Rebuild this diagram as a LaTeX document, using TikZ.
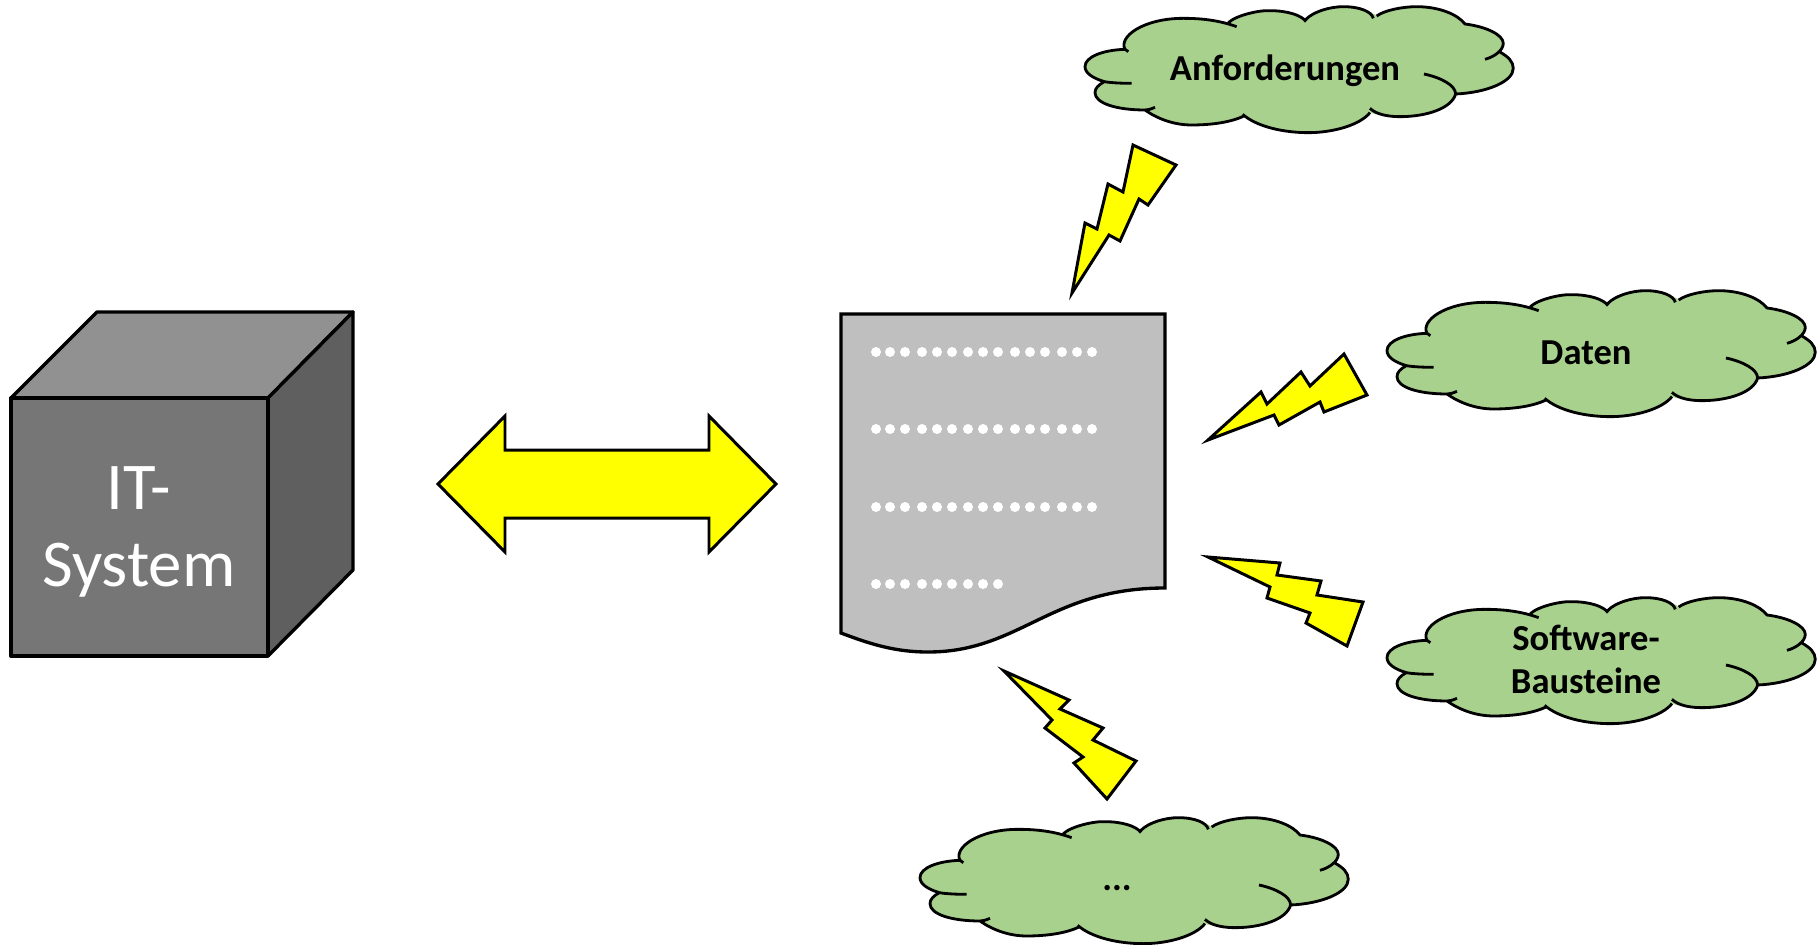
\documentclass[tikz,border=0pt]{standalone}
\usepackage{fontspec}
\setmainfont{Carlito}
\usepackage{xcolor}
\definecolor{wolkegreen}{HTML}{A9D18E}
\definecolor{blitzyellow}{HTML}{FFFF00}
\definecolor{cubefront}{HTML}{767676}
\definecolor{cubetop}{HTML}{919191}
\definecolor{cubeside}{HTML}{5F5F5F}
\definecolor{docgray}{HTML}{BFBFBF}

\tikzset{
  wolke/.pic={
    \path[fill=wolkegreen, scale=0.3333] (195,148)
      .. controls (175,110) and (250,55) .. (370,55)
      .. controls (430,55) and (480,62) .. (505,68)
      .. controls (530,45) and (600,30) .. (630,32)
      .. controls (680,32) and (725,45) .. (738,58)
      .. controls (760,35) and (810,20) .. (850,20)
      .. controls (900,20) and (935,35) .. (950,48)
      .. controls (975,30) and (1030,20) .. (1070,20)
      .. controls (1140,20) and (1195,45) .. (1215,72)
      .. controls (1280,80) and (1330,105) .. (1330,130)
      .. controls (1330,140) and (1325,148) .. (1318,155)
      .. controls (1345,170) and (1360,185) .. (1360,205)
      .. controls (1360,245) and (1280,278) .. (1187,282)
      .. controls (1175,325) and (1100,350) .. (1020,350)
      .. controls (990,350) and (950,345) .. (930,338)
      .. controls (900,375) and (820,398) .. (745,398)
      .. controls (670,398) and (590,380) .. (552,348)
      .. controls (510,368) and (450,375) .. (395,375)
      .. controls (340,375) and (290,355) .. (255,330)
      .. controls (170,330) and (105,310) .. (105,278)
      .. controls (105,265) and (115,255) .. (133,245)
      .. controls (100,235) and (75,220) .. (75,200)
      .. controls (75,170) and (130,150) .. (195,148) -- cycle;
    \draw[line width=0.8pt, line join=round, scale=0.3333] (205,155) -- (195,148)
      .. controls (175,110) and (250,55) .. (370,55)
      .. controls (430,55) and (480,62) .. (530,80)
      (505,68)
      .. controls (530,45) and (600,30) .. (630,32)
      .. controls (680,32) and (725,45) .. (738,65)
      (738,58)
      .. controls (760,35) and (810,20) .. (850,20)
      .. controls (900,20) and (935,35) .. (940,55)
      (950,48)
      .. controls (975,30) and (1030,20) .. (1070,20)
      .. controls (1140,20) and (1195,45) .. (1215,72)
      .. controls (1280,80) and (1330,105) .. (1330,130)
      .. controls (1330,150) and (1305,170) .. (1275,178)
      (1318,155)
      .. controls (1345,170) and (1360,185) .. (1360,205)
      .. controls (1360,245) and (1280,278) .. (1187,282)
      (1092,222) .. controls (1140,232) and (1187,255) .. (1187,282)
      .. controls (1175,325) and (1100,350) .. (1020,350)
      .. controls (990,350) and (950,345) .. (930,325)
      (930,338)
      .. controls (900,375) and (820,398) .. (745,398)
      .. controls (670,398) and (590,380) .. (548,343)
      (552,348)
      .. controls (510,368) and (450,375) .. (395,375)
      .. controls (340,375) and (290,355) .. (255,330)
      (285,322) .. controls (270,328) and (265,330) .. (255,330)
      .. controls (170,330) and (105,310) .. (105,278)
      .. controls (105,265) and (115,255) .. (133,245)
      (215,250) .. controls (180,250) and (150,248) .. (133,245)
      .. controls (100,235) and (75,220) .. (75,200)
      .. controls (75,170) and (130,150) .. (195,148);
  }
}

\begin{document}
\begin{tikzpicture}[x=0.01cm, y=-0.01cm, line join=miter]
	\tikzstyle{blitz}
	  =[draw, fill=blitzyellow, line width=0.85pt, miter limit=10]
	\tikzstyle{wolketext}
	  =[inner sep=0pt, align=center, font=\fontsize{10.4}{12.2}\selectfont\bfseries]
	\tikzstyle{cubeface}
	  =[draw, line width=0.95pt, line join=round]

	\useasboundingbox (0,0) rectangle (1820,945);

	% IT-System
	\path[cubeface, fill=cubetop] (11,398) -- (97,312) -- (353,312) -- (268,398) -- cycle;
	\path[cubeface, fill=cubeside] (268,398) -- (353,312) -- (353,570) -- (268,656) -- cycle;
	\path[cubeface, fill=cubefront] (11,398) rectangle (268,656);
	\node[inner sep=0pt, align=center, text=white,
	  font=\fontsize{19}{21.9}\selectfont] (system) at (139,532) {IT-\\System};

	% double arrow
	\draw[blitz] (438,484) -- (505,416) -- (505,450) -- (709,450) -- (709,416)
	  -- (776,484) -- (709,552) -- (709,518) -- (505,518) -- (505,552) -- cycle;

	% document
	\draw[fill=docgray, line width=0.95pt] (841,314) -- (1165,314) -- (1165,588)
	  .. controls (1050,588) and (1020,652) .. (928,652)
	  .. controls (895,652) and (870,644) .. (841,633) -- cycle;
	\foreach \yrow in {352,429,507}
	  \foreach \xdot in {876,890,905,922,937,952,968,983,998,1015,1030,1045,1062,1077,1092}
	    \fill[white] (\xdot,\yrow) circle (5);
	\foreach \xdot in {876,890,905,922,937,952,968,983,998}
	  \fill[white] (\xdot,584) circle (5);

	% flashes
	\draw[blitz] (1072,293) -- (1085,223) -- (1097,229) -- (1108,184) -- (1123,192)
	  -- (1133,145) -- (1176,165) -- (1148,205) -- (1139,199) -- (1120,241) -- (1109,235) -- cycle;
	\draw[blitz] (1208,440) -- (1261,392) -- (1267,404) -- (1301,372) -- (1310,386)
	  -- (1344,354) -- (1367,395) -- (1324,412) -- (1320,402) -- (1279,425) -- (1274,415) -- cycle;
	\draw[blitz] (1208,557) -- (1280,563) -- (1277,575) -- (1321,581) -- (1317,595)
	  -- (1363,602) -- (1347,646) -- (1306,623) -- (1310,613) -- (1267,598) -- (1270,587) -- cycle;
	\draw[blitz] (1004,671) -- (1069,700) -- (1060,709) -- (1103,728) -- (1093,740)
	  -- (1136,761) -- (1107,799) -- (1074,763) -- (1083,757) -- (1045,728) -- (1052,720) -- cycle;

	% clouds
	\pic at (1060,0) {wolke};
	\pic at (1362,284) {wolke};
	\pic at (1362,591) {wolke};
	\pic at (895,811) {wolke};

	\node[wolketext] (anforderungen) at (1285,71) {Anforderungen};
	\node[wolketext] (daten) at (1586,353) {Daten};
	\node[wolketext] (bausteine) at (1586,659) {Software-\\Bausteine};
	\node[wolketext] (more) at (1117,888) {...};
\end{tikzpicture}
\end{document}
